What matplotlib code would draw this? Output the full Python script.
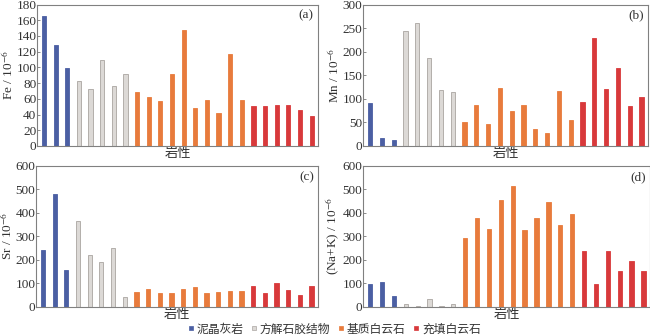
import matplotlib
matplotlib.use("Agg")
import matplotlib.pyplot as plt
from matplotlib.lines import Line2D

plt.rcParams['font.family'] = ['Liberation Serif', 'Noto Sans CJK SC']
plt.rcParams['mathtext.fontset'] = 'stix'

groups = ["泥晶灰岩", "方解石胶结物", "基质白云石", "充填白云石"]
group_sizes = [3, 5, 10, 6]
colors = ["#4b5fa3", "#dcd9d6", "#e87b3c", "#d8393b"]
edges = ["#4b5fa3", "#aaa5a1", "#e87b3c", "#d8393b"]

fe = [166, 128, 99,
      83, 72, 110, 76, 92,
      69, 62, 57, 91, 147, 48, 58, 42, 117, 58,
      51, 51, 52, 52, 46, 38]
mn = [92, 16, 12,
      243, 260, 186, 119, 115,
      51, 87, 46, 124, 75, 87, 35, 28, 117, 56,
      93, 229, 120, 165, 85, 104]
sr = [240, 482, 158,
      366, 218, 188, 248, 40,
      62, 73, 58, 57, 76, 82, 58, 63, 67, 67,
      88, 57, 102, 72, 49, 88]
nak = [95, 103, 45,
       12, 4, 32, 4, 12,
       292, 378, 330, 456, 514, 325, 378, 446, 350, 397,
       235, 95, 235, 150, 193, 150]

panels = [
    (fe, r"Fe / 10$^{-6}$", 180, 20, "(a)", [37, 4.5, 281, 141.5]),
    (mn, r"Mn / 10$^{-6}$", 300, 50, "(b)", [363, 4.5, 285, 141.5]),
    (sr, r"Sr / 10$^{-6}$", 600, 100, "(c)", [36, 166, 282, 140.5]),
    (nak, r"(Na+K) / 10$^{-6}$", 600, 100, "(d)", [363, 166, 287, 140.5]),
]

bar_colors = []
bar_edges = []
for c, e, n in zip(colors, edges, group_sizes):
    bar_colors += [c] * n
    bar_edges += [e] * n

W, H = 650, 336
fig = plt.figure(figsize=(6.5, 3.36), dpi=100)

for vals, ylab, ymax, step, tag, (x0, y0, w, h) in panels:
    ax = fig.add_axes([x0 / W, 1 - (y0 + h) / H, w / W, h / H])
    x = list(range(len(vals)))
    ax.bar(x, vals, width=0.36, color=bar_colors, edgecolor=bar_edges, linewidth=0.6)
    ax.set_xlim(-0.6, len(vals) - 0.45)
    ax.set_ylim(0, ymax)
    ax.set_yticks(range(0, ymax + 1, step))
    ax.set_xticks([])
    ax.tick_params(axis='y', direction='in', length=2.5, width=0.6, color='#777777',
                   labelsize=9.5, pad=0.5, labelcolor='#333333')
    for s in ax.spines.values():
        s.set_color('#808080')
        s.set_linewidth(0.8)
    ax.set_ylabel(ylab, fontsize=9.5, labelpad=0, color='#333333')
    ax.set_xlabel("岩性", fontsize=9.5, labelpad=1, family=['Noto Sans CJK SC'],
                  fontweight='medium', color='#333333')
    ax.text(0.985, 0.965, tag, transform=ax.transAxes, ha='right', va='top',
            fontsize=9.5, color='#333333')

handles = [Line2D([], [], ls='none', marker='s', markersize=3,
                  markerfacecolor=c, markeredgecolor=e, markeredgewidth=0.5)
           for c, e in zip(colors, edges)]
fig.legend(handles, groups, loc='center', bbox_to_anchor=(334 / W, 1 - 329 / H),
           ncol=4, frameon=False, handlelength=0.6, handletextpad=0.2,
           columnspacing=0.6, borderpad=0, labelcolor='#333333',
           prop={'family': ['Noto Sans CJK SC'], 'size': 8.5})

fig.savefig("out.png", dpi=100)
